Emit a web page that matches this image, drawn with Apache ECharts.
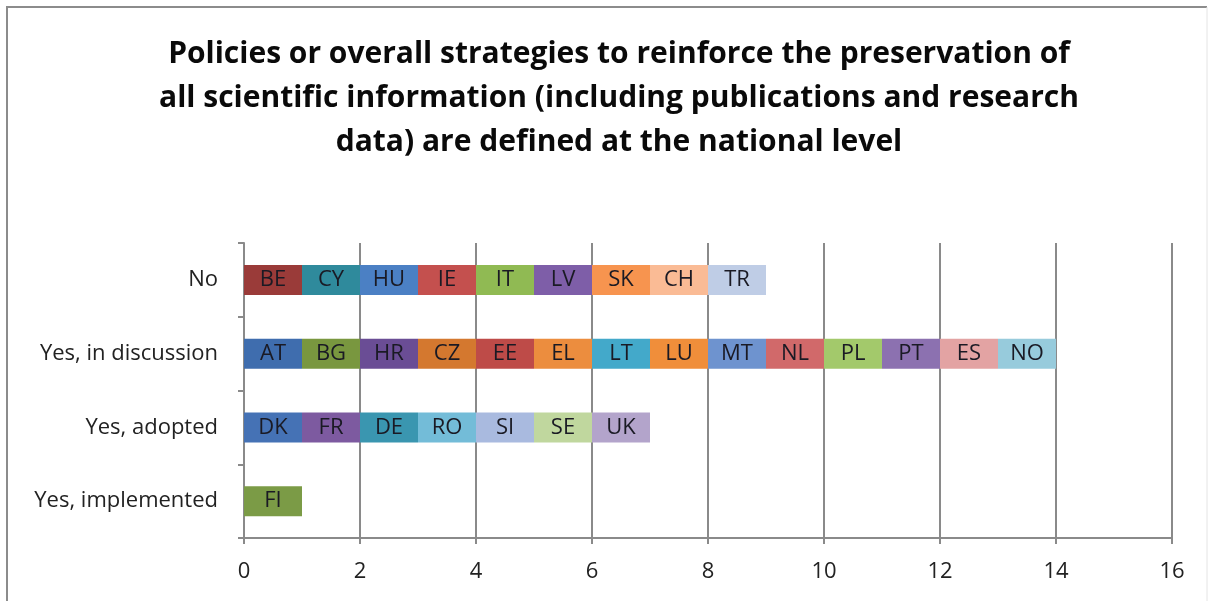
<!DOCTYPE html>
<html>
<head>
<meta charset="utf-8">
<title>National preservation policies</title>
<script src="https://cdn.jsdelivr.net/npm/echarts@6/dist/echarts.min.js"></script>
<style>
  html, body { margin: 0; padding: 0; background: #fff; }
  #chart { width: 1212px; height: 601px; }
</style>
</head>
<body>
<div id="chart"></div>
<script>
// Answer categories, top to bottom
const categories = ['No', 'Yes, in discussion', 'Yes, adopted', 'Yes, implemented'];

// Countries that gave each answer (one unit per country)
const countriesNo = ['BE', 'CY', 'HU', 'IE', 'IT', 'LV', 'SK', 'CH', 'TR'];
const countriesDiscussion = ['AT', 'BG', 'HR', 'CZ', 'EE', 'EL', 'LT', 'LU', 'MT', 'NL', 'PL', 'PT', 'ES', 'NO'];
const countriesAdopted = ['DK', 'FR', 'DE', 'RO', 'SI', 'SE', 'UK'];
const countriesImplemented = ['FI'];

// Value of each country segment
const segmentValue = 1;

// Value axis ticks
const xTicks = [0, 2, 4, 6, 8, 10, 12, 14, 16];

// Segment colours per country
const countryColors = {
  BE: '#9a3b39', CY: '#2f8a9c', HU: '#4b80c4', IE: '#c4504e', IT: '#90ba53',
  LV: '#7e5ea8', SK: '#f7944f', CH: '#fabb95', TR: '#bfcde6',
  AT: '#3f6dae', BG: '#79973f', HR: '#6a4d95', CZ: '#d4782f', EE: '#be4b48',
  EL: '#ec8d3e', LT: '#43a9ca', LU: '#f08e3a', MT: '#6e93cf', NL: '#d1696a',
  PL: '#a3c96b', PT: '#8c71b0', ES: '#e3a3a3', NO: '#97cbdc',
  DK: '#4572b5', FR: '#7d5aa0', DE: '#3a96b0', RO: '#73bcd8', SI: '#a9badf',
  SE: '#c0d79e', UK: '#b3a4cb',
  FI: '#7b9b46'
};

const rows = [countriesNo, countriesDiscussion, countriesAdopted, countriesImplemented];

const gridColor = '#8a8a8a';
const fontFamily = '"Open Sans", Lato, sans-serif';

// One stacked series per country, placed in its own answer row
const series = [];
rows.forEach((row, rowIndex) => {
  row.forEach(code => {
    const data = categories.map((_, i) => (i === rowIndex ? segmentValue : '-'));
    series.push({
      name: code,
      type: 'bar',
      stack: 'answers',
      barWidth: 30,
      data: data,
      itemStyle: { color: countryColors[code] },
      label: {
        show: true,
        position: 'inside',
        formatter: () => code,
        color: '#1a1a24',
        fontSize: 22,
        fontFamily: fontFamily
      },
      emphasis: { disabled: true }
    });
  });
});

const chart = echarts.init(document.getElementById('chart'), null, { renderer: 'canvas' });

chart.setOption({
  animation: false,
  backgroundColor: '#ffffff',
  title: {
    text: 'Policies or overall strategies to reinforce the preservation of\nall scientific information (including publications and research\ndata) are defined at the national level',
    left: 614,
    textAlign: 'center',
    top: 27,
    textStyle: {
      fontFamily: fontFamily,
      fontWeight: 'bold',
      fontSize: 30,
      lineHeight: 44,
      color: '#0a0a0a'
    }
  },
  graphic: [
    {
      type: 'polyline',
      shape: { points: [[7, 601], [7, 7], [1207, 7]] },
      style: { stroke: '#8c8c8c', lineWidth: 2, fill: null },
      silent: true
    },
    {
      type: 'line',
      shape: { x1: 1207, y1: 7, x2: 1207, y2: 601 },
      style: { stroke: '#e4e4e4', lineWidth: 1 },
      silent: true
    }
  ],
  grid: {
    left: 244,
    right: 40,
    top: 243,
    bottom: 63,
    containLabel: false
  },
  xAxis: {
    type: 'value',
    min: xTicks[0],
    max: xTicks[xTicks.length - 1],
    interval: xTicks[1] - xTicks[0],
    axisLine: { show: true, lineStyle: { color: gridColor, width: 2 } },
    axisTick: { show: true, length: 6, lineStyle: { color: gridColor, width: 2 } },
    splitLine: { show: true, lineStyle: { color: gridColor, width: 2 } },
    axisLabel: {
      color: '#222',
      fontSize: 22,
      fontFamily: fontFamily,
      margin: 23
    }
  },
  yAxis: {
    type: 'category',
    data: categories,
    inverse: true,
    axisLine: { show: true, lineStyle: { color: gridColor, width: 2 } },
    axisTick: { show: true, length: 6, alignWithLabel: false, lineStyle: { color: gridColor, width: 2 } },
    splitLine: { show: false },
    axisLabel: {
      color: '#222',
      fontSize: 22,
      fontFamily: fontFamily,
      margin: 26
    }
  },
  series: series
});
</script>
</body>
</html>
